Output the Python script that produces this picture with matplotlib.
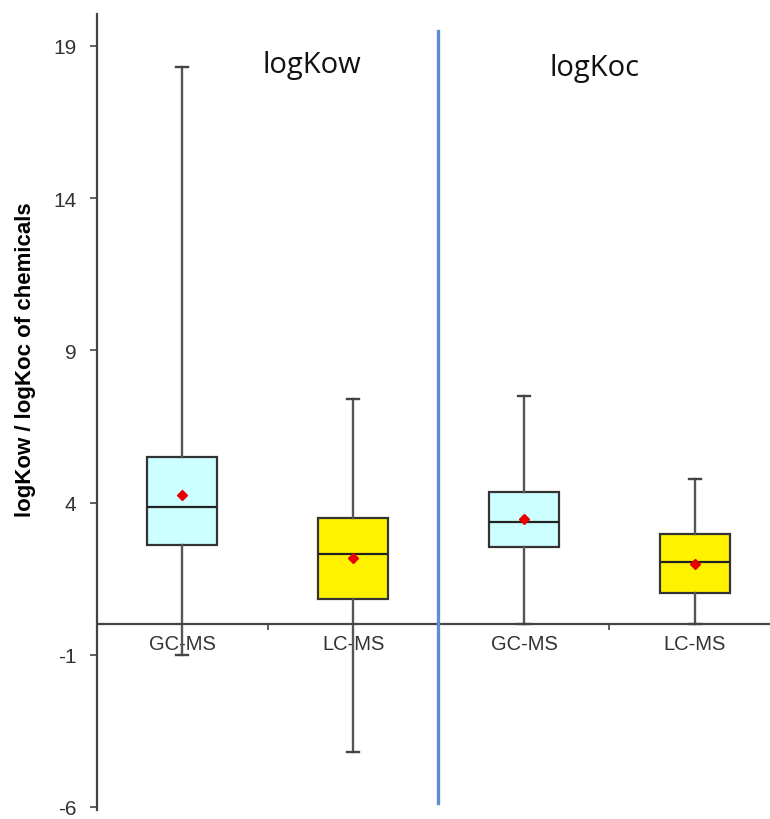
import matplotlib
matplotlib.use("Agg")
import matplotlib.pyplot as plt
from matplotlib.ticker import FixedLocator

plt.rcParams["font.family"] = ["Liberation Sans", "DejaVu Sans"]
plt.rcParams["axes.unicode_minus"] = False

# box statistics (logKow: GC-MS, LC-MS; logKoc: GC-MS, LC-MS)
labels = ["GC-MS", "LC-MS", "GC-MS", "LC-MS"]
whislo = [-1.0, -4.2, 0.0, 0.0]
q1 = [2.6, 0.83, 2.53, 1.03]
med = [3.87, 2.3, 3.35, 2.04]
mean = [4.26, 2.17, 3.45, 1.98]
q3 = [5.5, 3.5, 4.36, 2.96]
whishi = [18.3, 7.4, 7.5, 4.76]
fills = ["#ccffff", "#fff200", "#ccffff", "#fff200"]
group_titles = ["logKow", "logKoc"]
yticks = [-6, -1, 4, 9, 14, 19]

fig = plt.figure(figsize=(7.7, 8.2), dpi=100)
ax = fig.add_axes([97 / 770, 9 / 820, 673 / 770, 796 / 820])

stats = []
for i in range(len(labels)):
    stats.append(dict(label=labels[i], whislo=whislo[i], q1=q1[i], med=med[i],
                      q3=q3[i], whishi=whishi[i], mean=mean[i], fliers=[]))

bp = ax.bxp(stats, positions=[1, 2, 3, 4], widths=0.41, patch_artist=True,
            showmeans=True, showfliers=False,
            boxprops=dict(edgecolor="#333333", linewidth=1.6),
            medianprops=dict(color="#222222", linewidth=1.6),
            whiskerprops=dict(color="#555555", linewidth=1.7),
            capprops=dict(color="#444444", linewidth=1.7),
            meanprops=dict(marker="D", markerfacecolor="#e60000",
                           markeredgecolor="#e60000", markersize=5))
for patch, c in zip(bp["boxes"], fills):
    patch.set_facecolor(c)
for cap in bp["caps"]:
    x0, x1 = cap.get_xdata()
    xc = (x0 + x1) / 2
    cap.set_xdata([xc - 0.035, xc + 0.035])

ax.set_xlim(0.5, 4.44)
ax.set_ylim(-6.1, 20.05)

ax.spines["top"].set_visible(False)
ax.spines["right"].set_visible(False)
ax.spines["bottom"].set_position(("data", 0))
for s in ("left", "bottom"):
    ax.spines[s].set_color("#444444")
    ax.spines[s].set_linewidth(1.6)

ax.set_yticks(yticks)
ax.tick_params(axis="y", direction="out", length=5, width=1.2, color="#444444",
               labelsize=15, labelcolor="#333333", pad=10)
ax.set_xticks([1, 2, 3, 4])
ax.set_xticklabels(labels)
ax.tick_params(axis="x", which="major", length=0, labelsize=14.5,
               labelcolor="#333333", pad=7)
ax.xaxis.set_minor_locator(FixedLocator([0.5, 1.5, 2.5, 3.5]))
ax.tick_params(axis="x", which="minor", direction="out", length=4, width=1.2,
               color="#444444")

# divider between the two groups
ax.axvline(2.494, ymin=(-5.87 + 6.1) / 26.15, ymax=(19.49 + 6.1) / 26.15,
           color="#5b8fd0", linewidth=2.4, zorder=5)

ax.text(1.76, 18.4, group_titles[0], fontsize=21, family="Open Sans",
        ha="center", va="center", color="#111111")
ax.text(3.41, 18.3, group_titles[1], fontsize=21, family="Open Sans",
        ha="center", va="center", color="#111111")

fig.text(26 / 770, 1 - 360 / 820, "logKow / logKoc of chemicals", rotation=90,
         ha="center", va="center", fontsize=16, fontweight="bold")

fig.savefig("out.png", dpi=100)
